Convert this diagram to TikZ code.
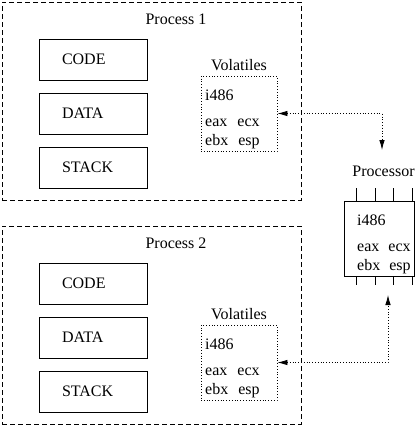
\documentclass[tikz,border=0pt]{standalone}
\usepackage{fontspec}
\setmainfont{Liberation Serif}
\usetikzlibrary{arrows.meta,calc}
\begin{document}
\begin{tikzpicture}[x=1pt,y=-1pt,font=\fontsize{16}{19}\selectfont,
  procbox/.style={draw,dash pattern=on 5pt off 3pt,line width=0.8pt,inner sep=0pt,minimum width=299pt,minimum height=198pt},
  seg/.style={draw,line width=0.8pt,minimum width=108pt,minimum height=41pt,text width=62pt,inner xsep=23pt,inner ysep=0pt,align=left},
  volbox/.style={draw,dotted,line width=0.8pt,minimum width=76pt,minimum height=75pt,inner sep=0pt},
  cpubox/.style={draw,line width=0.8pt,minimum width=70pt,minimum height=75pt,inner sep=0pt},
  txt/.style={inner sep=0pt,anchor=base west},
  lbl/.style={inner sep=0pt,anchor=base},
  pin/.style={line width=0.8pt},
  link/.style={dotted,line width=0.8pt,{Latex[length=10pt,width=5.5pt]}-{Latex[length=10pt,width=5.5pt]}}]
\useasboundingbox (0,0) rectangle (420,426);

% Process 1
\node[procbox] (p1) at (151.5,101) {};
\node[lbl] (t1) at (176,24) {Process 1};
\node[seg] (code1) at (93,59.5) {CODE};
\node[seg] (data1) at (93,113.5) {DATA};
\node[seg] (stack1) at (93,167.5) {STACK};
\node[lbl] (vl1) at (239,70.5) {Volatiles};
\node[volbox] (vol1) at (239,113.5) {};
\node[txt] (vi1) at (205,100.5) {i486};
\node[txt] (va1) at (205,126) {eax\hspace{10pt}ecx};
\node[txt] (vb1) at (205,145) {ebx\hspace{10pt}esp};

% Process 2
\node[procbox] (p2) at (151.5,325) {};
\node[lbl] (t2) at (176,248) {Process 2};
\node[seg] (code2) at (93,283.5) {CODE};
\node[seg] (data2) at (93,337.5) {DATA};
\node[seg] (stack2) at (93,391.5) {STACK};
\node[lbl] (vl2) at (239,319.5) {Volatiles};
\node[volbox] (vol2) at (239,362.5) {};
\node[txt] (vi2) at (205,349.5) {i486};
\node[txt] (va2) at (205,375) {eax\hspace{10pt}ecx};
\node[txt] (vb2) at (205,394) {ebx\hspace{10pt}esp};

% Processor
\node[lbl] (pl) at (383.5,176) {Processor};
\node[cpubox] (cpu) at (379,238.5) {};
\node[txt] (ci) at (357,225.5) {i486};
\node[txt] (ca) at (357,251) {eax\hspace{9pt}ecx};
\node[txt] (cb) at (357,270) {ebx\hspace{9pt}esp};
\foreach \d in {13,31.5,50,68.5}{
  \draw[pin] ($(cpu.north west)+(\d,0)$) -- ++(0,-13);
  \draw[pin] ($(cpu.south west)+(\d,0)$) -- ++(0,9);
}

% Links
\coordinate (k1) at (382,113.5);
\coordinate (e1) at (382,150);
\coordinate (k2) at (388,362.5);
\coordinate (e2) at (388,295);
\draw[link] (vol1.east) -- (k1) -- (e1);
\draw[link] (vol2.east) -- (k2) -- (e2);
\end{tikzpicture}
\end{document}
